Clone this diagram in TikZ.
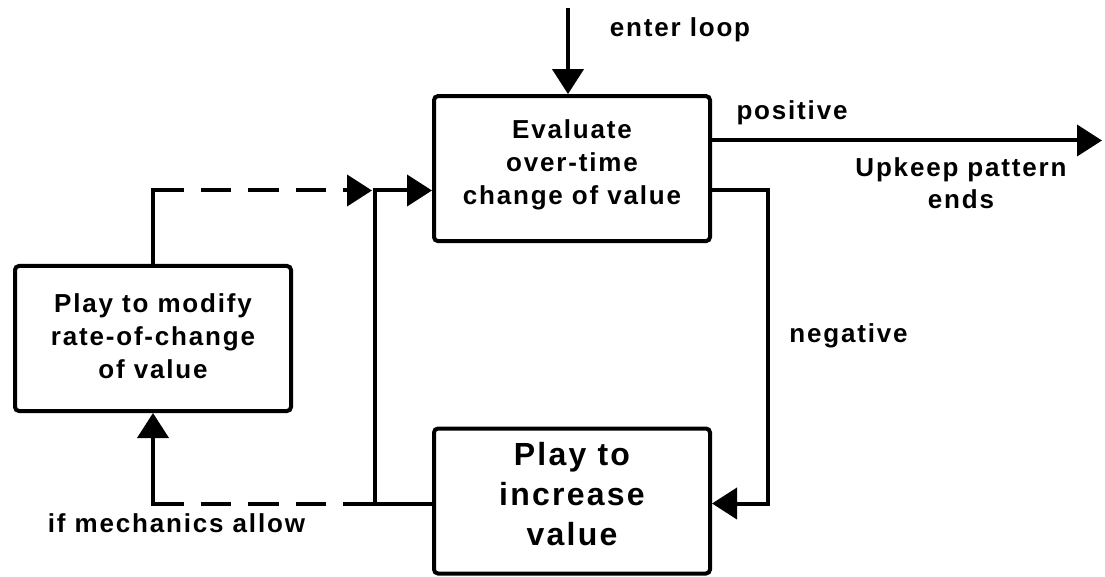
\documentclass[tikz,border=0pt]{standalone}
\usepackage{fontspec}
\setmainfont{Liberation Sans}[LetterSpace=7]
\usetikzlibrary{arrows.meta}

\begin{document}
\begin{tikzpicture}[x=1pt,y=-1pt,
  box/.style={draw, line width=4pt, rounded corners=4pt, minimum width=276pt,
    minimum height=145pt, inner sep=0pt, align=center,
    font=\bfseries\fontsize{26}{33}\selectfont},
  bigbox/.style={box, font=\bfseries\fontsize{32}{40}\selectfont},
  lbl/.style={font=\bfseries\fontsize{26}{32}\selectfont, inner sep=0pt, align=center},
  wire/.style={line width=4pt},
  conn/.style={wire, -{Triangle[length=25pt,width=31pt]}},
  dashline/.style={dash pattern=on 30.5pt off 17pt}
]
\useasboundingbox (0,0) rectangle (1105,577);

% process boxes
\node[box, text depth=14pt] (eval) at (572,168.6) {Evaluate\\over-time\\change of value};
\node[bigbox, text depth=15pt] (incr) at (572,501) {Play to\\increase\\value};
\node[box, text depth=4pt] (modif) at (153,338.5) {Play to modify\\rate-of-change\\of value};

% routing points
\coordinate (entry) at (568,8);
\coordinate (done) at (1102,140.5);
\coordinate (rgt) at (768,190.5);
\coordinate (jtop) at (375,190.5);
\coordinate (jtopL) at (372,190.5);
\coordinate (jbot) at (375,503.5);
\coordinate (mtop) at (modif.north |- jtop);
\coordinate (mbot) at (modif.south |- jbot);

% labels
\node[lbl, anchor=base] (lentry) at (680,37) {enter loop};
\node[lbl, anchor=base] (lpos) at (792,120) {positive};
\node[lbl, anchor=center] (lend) at (961,183) {Upkeep pattern\\ends};
\node[lbl, anchor=base] (lneg) at (848.5,342) {negative};
\node[lbl, anchor=base] (lallow) at (176.5,532) {if mechanics allow};

% connectors
\draw[conn] (entry) -- (entry |- eval.north);
\draw[conn] (eval.east |- done) -- (done);
\draw[conn] (eval.east |- rgt) -- (rgt) |- (incr.east |- jbot);
\draw[conn] (incr.west |- jbot) -- (jbot) -- (jtop) -- (eval.west |- jtop);
\draw[wire, line cap=rect] (modif.north) -- (mtop);
\draw[conn, dashline] (mtop) -- (jtopL);
\draw[wire, dashline] (mbot) -- (jbot);
\draw[conn, line cap=rect] (mbot) -- (modif.south);
\end{tikzpicture}
\end{document}
